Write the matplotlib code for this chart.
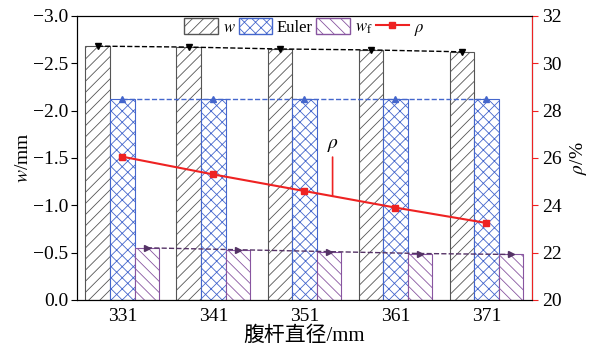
import numpy as np
import matplotlib.pyplot as plt
from matplotlib.patches import Patch
from matplotlib.lines import Line2D

plt.rcParams['font.family'] = ['Liberation Serif', 'Noto Sans CJK SC']
plt.rcParams['mathtext.fontset'] = 'stix'
plt.rcParams['hatch.linewidth'] = 0.6
plt.rcParams['axes.unicode_minus'] = True

diam = ['331', '341', '351', '361', '371']
w = [-2.68, -2.67, -2.65, -2.64, -2.62]
euler = [-2.12, -2.12, -2.12, -2.12, -2.12]
wf = [-0.55, -0.53, -0.51, -0.49, -0.48]
rho = [26.05, 25.3, 24.6, 23.9, 23.25]

c_w = '#555555'
c_e = '#4466cc'
c_f = '#8855a0'
c_r = '#ee2222'

x = np.arange(len(diam))
bw = 0.27

fig = plt.figure(figsize=(5.91, 3.52), dpi=100)
ax = fig.add_axes([0.130, 0.148, 0.770, 0.807])

ax.bar(x - bw, w, bw, color='white', edgecolor=c_w, hatch='///', lw=0.8)
ax.bar(x, euler, bw, color='white', edgecolor=c_e, hatch='xxx', lw=0.8)
ax.bar(x + bw, wf, bw, color='white', edgecolor=c_f, hatch='\\\\\\', lw=0.8)

ax.plot(x - bw, w, ls='--', color='black', lw=1, marker='v', ms=4)
ax.plot(x, euler, ls='--', color=c_e, lw=1, marker='^', ms=4)
ax.plot(x + bw, wf, ls='--', color='#553366', lw=1, marker='>', ms=4)

ax.set_ylim(0, -3.0)
ax.set_yticks(np.arange(0, -3.01, -0.5))
ax.set_xlim(-0.5, 4.5)
ax.set_xticks(x)
ax.set_xticklabels(diam)
ax.tick_params(axis='x', length=0, labelsize=14, pad=6)
ax.tick_params(axis='y', labelsize=14, direction='out', length=4, pad=2)
ax.set_ylabel('$w$/mm', fontsize=14, labelpad=1)
ax.set_xlabel('腹杆直径/mm', fontsize=15, labelpad=1)

ax2 = ax.twinx()
ax2.plot(x, rho, color=c_r, lw=1.5, marker='s', ms=5)
ax2.set_ylim(20, 32)
ax2.set_yticks(np.arange(20, 33, 2))
ax2.tick_params(axis='y', colors=c_r, labelcolor='black', labelsize=14, length=4)
ax2.spines['right'].set_color(c_r)
ax2.set_ylabel(r'$\rho$/%', fontsize=14, labelpad=4)

ax2.annotate(r'$\rho$', xy=(2.31, 24.38), xytext=(2.31, 26.15), fontsize=14,
             ha='center', va='bottom',
             arrowprops=dict(arrowstyle='-', color=c_r, lw=1.2, shrinkA=0, shrinkB=0))

handles = [Patch(facecolor='white', edgecolor=c_w, hatch='///'),
           Patch(facecolor='white', edgecolor=c_e, hatch='xxx'),
           Patch(facecolor='white', edgecolor=c_f, hatch='\\\\\\'),
           Line2D([], [], color=c_r, marker='s', ms=4, lw=1.5)]
labels = ['$w$', 'Euler', '$w_{\\rm f}$', r'$\rho$']
ax.legend(handles, labels, loc='upper center', bbox_to_anchor=(0.5, 1.045), ncol=4,
          frameon=False, fontsize=12, handlelength=2.0, handleheight=1.1,
          handletextpad=0.3, columnspacing=0.2)

fig.savefig('out.png', dpi=100)
